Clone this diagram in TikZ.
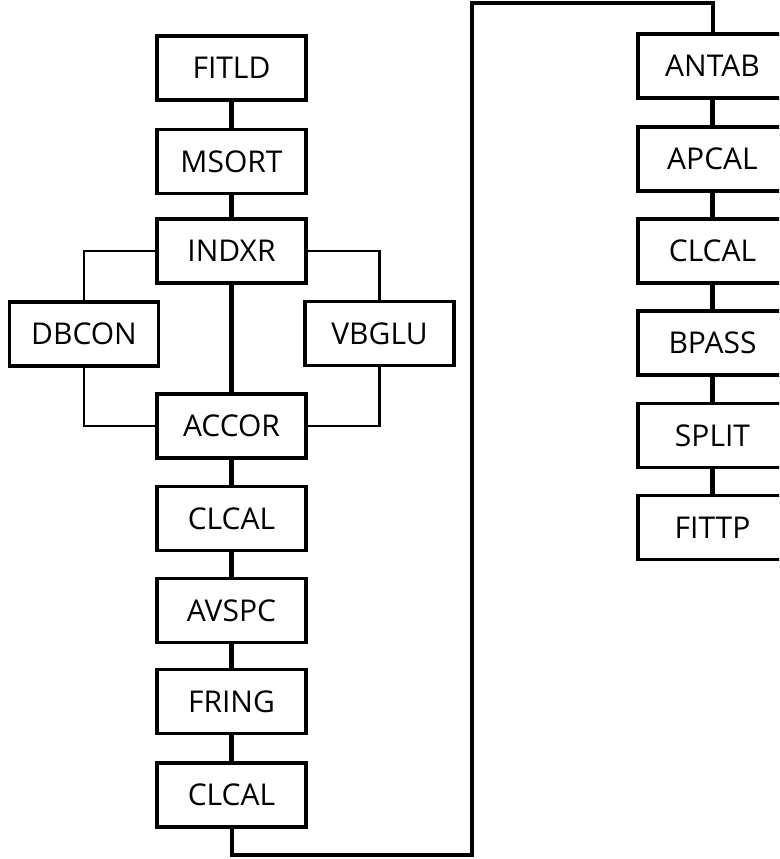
\documentclass[tikz,border=0pt]{standalone}
\usepackage{fontspec}
\setmainfont{Open Sans}
\begin{document}
\begin{tikzpicture}[x=1pt,y=-1pt,
  task/.style={draw=black, line width=3.5pt, rectangle, minimum width=149pt,
    minimum height=64pt, inner sep=0pt, font=\fontsize{30pt}{32pt}\selectfont,
    text height=21pt, text depth=0pt, fill=white},
  trunk/.style={line width=5pt},
  branch/.style={line width=2.3pt},
  loopline/.style={line width=4pt}]
\useasboundingbox (0,0) rectangle (779,859);
\clip (0,0) rectangle (779,859);
\fill[white] (0,0) rectangle (779,859);

% left column
\node[task] (fitld)  at (231.5,68)    {FITLD};
\node[task] (msort)  at (231.5,161.5) {MSORT};
\node[task] (indxr)  at (231.5,251)   {INDXR};
\node[task] (dbcon)  at (84,334)      {DBCON};
\node[task] (vbglu)  at (379.5,333.5) {VBGLU};
\node[task] (accor)  at (231.5,426)   {ACCOR};
\node[task] (clcalA) at (231.5,518.5) {CLCAL};
\node[task] (avspc)  at (231.5,610.5) {AVSPC};
\node[task] (fring)  at (231.5,701.5) {FRING};
\node[task] (clcalB) at (231.5,795)   {CLCAL};

% right column
\node[task] (antab)  at (712.5,66)    {ANTAB};
\node[task] (apcal)  at (712.5,159)   {APCAL};
\node[task] (clcalC) at (712.5,251)   {CLCAL};
\node[task] (bpass)  at (712.5,343)   {BPASS};
\node[task] (split)  at (712.5,435.5) {SPLIT};
\node[task] (fittp)  at (712.5,527.5) {FITTP};

% straight chain connectors
\draw[trunk] (fitld.south) -- (msort.north);
\draw[trunk] (msort.south) -- (indxr.north);
\draw[trunk] (indxr.south) -- (accor.north);
\draw[trunk] (accor.south) -- (clcalA.north);
\draw[trunk] (clcalA.south) -- (avspc.north);
\draw[trunk] (avspc.south) -- (fring.north);
\draw[trunk] (fring.south) -- (clcalB.north);
\draw[trunk] (antab.south) -- (apcal.north);
\draw[trunk] (apcal.south) -- (clcalC.north);
\draw[trunk] (clcalC.south) -- (bpass.north);
\draw[trunk] (bpass.south) -- (split.north);
\draw[trunk] (split.south) -- (fittp.north);

% side branches around INDXR -> ACCOR
\draw[branch] (indxr.west) -- (dbcon.north |- indxr.west) -- (dbcon.north);
\draw[branch] (dbcon.south) -- (dbcon.south |- accor.west) -- (accor.west);
\draw[branch] (indxr.east) -- (vbglu.north |- indxr.east) -- (vbglu.north);
\draw[branch] (vbglu.south) -- (vbglu.south |- accor.east) -- (accor.east);

% link from the left column to the right column
\coordinate (lowturn) at (472,855);
\coordinate (highturn) at (472,3);
\draw[loopline] (clcalB.south) -- (clcalB.south |- lowturn) -- (lowturn)
  -- (highturn) -- (antab.north |- highturn) -- (antab.north);
\end{tikzpicture}
\end{document}
